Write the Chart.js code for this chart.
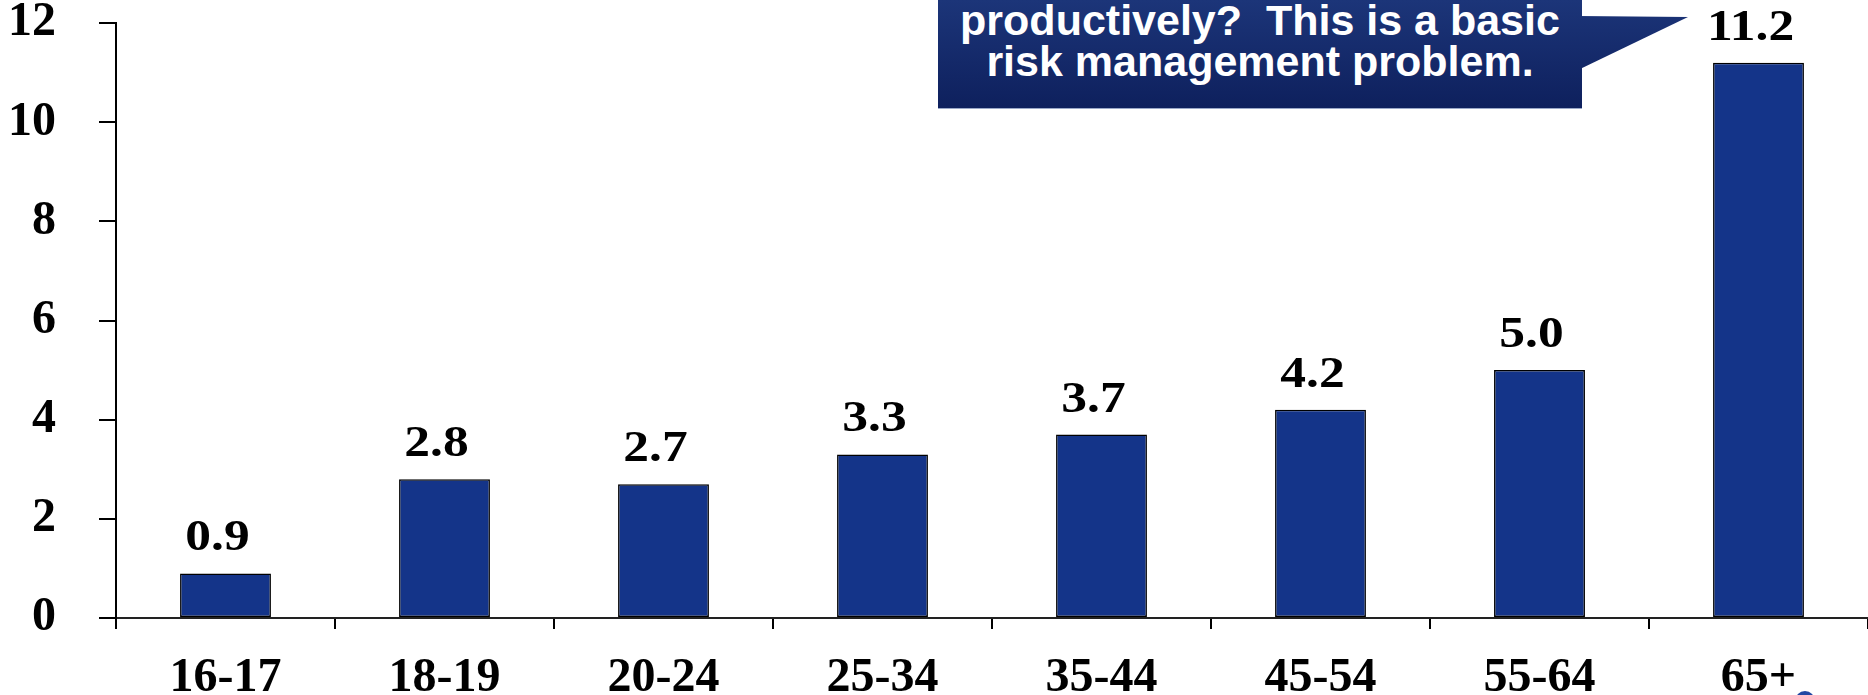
<!DOCTYPE html>
<html>
<head>
<meta charset="utf-8">
<script src="https://cdn.jsdelivr.net/npm/chart.js@4.4.1/dist/chart.umd.min.js"></script>
<style>
  html, body { margin: 0; padding: 0; background: #fff; overflow: hidden; }
  #wrap { position: relative; width: 1868px; height: 695px; overflow: hidden; }
  #callout {
    position: absolute; left: 938px; top: 0; width: 644px; height: 108px;
    background: linear-gradient(#1c3579, #0e205d);
    border-bottom: 1px solid #9aa8c8;
    color: #fff; font: bold 43px "Liberation Sans", Arial, sans-serif;
    line-height: 41px; text-align: center; white-space: pre;
  }
  #pointer {
    position: absolute; left: 1578px; top: 0; width: 112px; height: 108px;
    background: linear-gradient(#1c3579, #0e205d);
    clip-path: polygon(0 16px, 110px 17px, 0 70px);
  }
  #dot {
    position: absolute; left: 1795px; top: 691px; width: 20px; height: 20px;
    border-radius: 50%; background: #2148a3;
  }
</style>
</head>
<body>
<div id="wrap">
  <canvas id="chart" width="1868" height="695"></canvas>
  <div id="pointer"></div>
  <div id="callout">productively?  This is a basic
risk management problem.</div>
  <div id="dot"></div>
</div>
<script>
const ageGroups = ['16-17', '18-19', '20-24', '25-34', '35-44', '45-54', '55-64', '65+'];
const rates = [0.9, 2.8, 2.7, 3.3, 3.7, 4.2, 5.0, 11.2];
const yMin = 0;
const yMax = 12;
const yStep = 2;

const serif = '"Liberation Serif", "Times New Roman", serif';

// value labels above each bar, a little wide and left of centre
const barValues = {
  id: 'barValues',
  afterDatasetsDraw(chart) {
    const ctx = chart.ctx;
    const meta = chart.getDatasetMeta(0);
    ctx.save();
    ctx.fillStyle = '#000';
    ctx.font = 'bold 44px ' + serif;
    ctx.textAlign = 'center';
    ctx.textBaseline = 'alphabetic';
    meta.data.forEach((bar, i) => {
      ctx.save();
      ctx.translate(bar.x - 8, bar.y - 23);
      ctx.scale(1.17, 1);
      ctx.fillText(rates[i].toFixed(1), 0, 0);
      ctx.restore();
    });
    ctx.restore();
  }
};

const ctx = document.getElementById('chart').getContext('2d');
new Chart(ctx, {
  type: 'bar',
  data: {
    labels: ageGroups,
    datasets: [{
      data: rates,
      backgroundColor: '#143489',
      borderColor: '#000',
      borderWidth: 1.5,
      borderSkipped: false,
      barPercentage: 0.415,
      categoryPercentage: 1
    }]
  },
  options: {
    responsive: false,
    animation: false,
    devicePixelRatio: 1,
    layout: { padding: { top: 23, right: 0, left: 0, bottom: 0 } },
    plugins: {
      legend: { display: false },
      tooltip: { enabled: false }
    },
    scales: {
      x: {
        grid: { offset: true, drawOnChartArea: false, tickLength: 11, color: '#000', lineWidth: 2 },
        border: { color: '#222', width: 2 },
        ticks: {
          color: '#000',
          padding: 26,
          maxRotation: 0,
          font: { family: serif, size: 48, weight: 'bold', lineHeight: 1 }
        },
        afterFit(scale) {
          scale.height = 77;
          scale.paddingLeft = 0;
          scale.paddingRight = 0;
        }
      },
      y: {
        min: yMin,
        max: yMax,
        grid: { drawOnChartArea: false, tickLength: 17, color: '#000', lineWidth: 2 },
        border: { color: '#000', width: 2 },
        ticks: {
          stepSize: yStep,
          color: '#000',
          padding: 43,
          font: { family: serif, size: 48, weight: 'bold', lineHeight: 1 }
        },
        afterFit(scale) {
          scale.width = 116;
          scale.paddingTop = 0;
          scale.paddingBottom = 0;
        }
      }
    }
  },
  plugins: [barValues]
});
</script>
</body>
</html>
